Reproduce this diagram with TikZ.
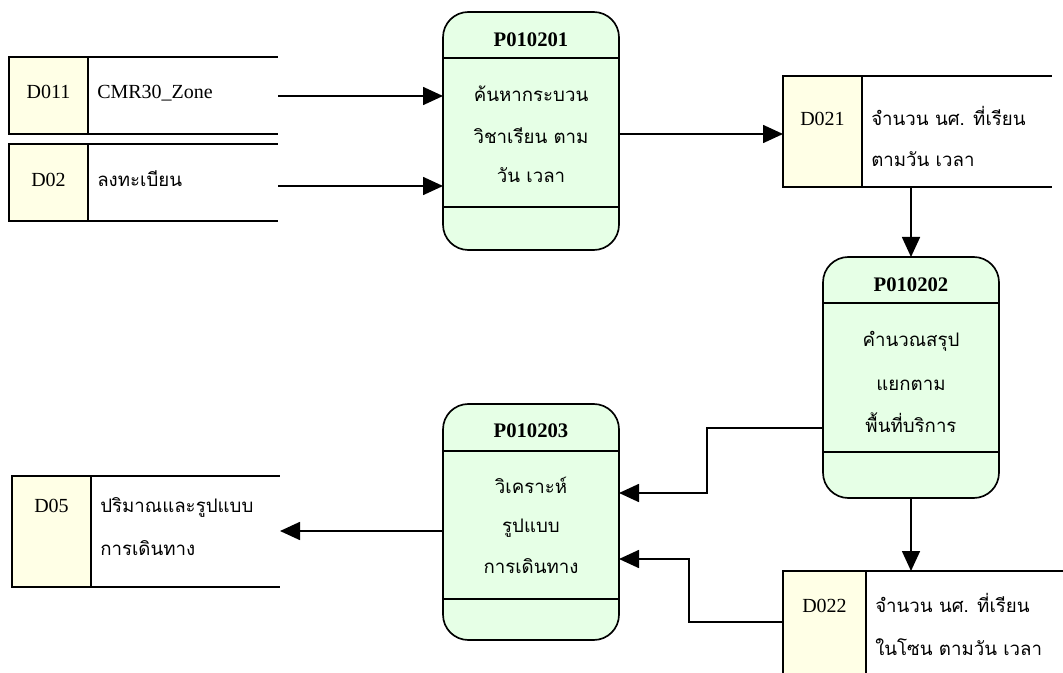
\documentclass[tikz,border=0pt]{standalone}
\usepackage{fontspec}
\setmainfont{Liberation Serif}
\newfontfamily\thaifont[Script=Thai]{Loma}
\usetikzlibrary{arrows.meta,fit}
\definecolor{storefill}{HTML}{FFFFE6}
\definecolor{procfill}{HTML}{E6FFE6}
\begin{document}
\begin{tikzpicture}[x=0.75pt,y=-0.75pt,
  line/.style={line width=1.25pt},
  flow/.style={line width=1.25pt,-{Triangle[length=15pt,width=13.5pt]}},
  area/.style={inner sep=0pt,outer sep=0pt},
  idbox/.style={area,draw,line width=1.25pt,fill=storefill},
  process/.style={area,draw,line width=1.25pt,fill=procfill,rounded corners=19pt},
  idtext/.style={anchor=base,inner sep=0pt,font=\fontsize{15}{18}\selectfont},
  latin/.style={anchor=base west,inner sep=0pt,font=\fontsize{15}{18}\selectfont},
  title/.style={anchor=base,inner sep=0pt,font=\fontsize{15.5}{18}\selectfont\bfseries},
  thaitext/.style={anchor=base west,inner sep=0pt,font=\fontsize{14}{16}\selectfont\thaifont},
  thaic/.style={anchor=base,inner sep=0pt,font=\fontsize{14}{16}\selectfont\thaifont}]
\useasboundingbox (0,0) rectangle (1063,673);
\clip (0,0) rectangle (1063,673);

% ---------- data stores ----------
% D011
\node[area,fit={(9,57) (278,134)}] (s011) {};
\draw[line] (s011.north west) -- (s011.north east) (s011.south west) -- (s011.south east);
\node[idbox,fit={(9,57) (88,134)}] (d011) {};
\node[idtext] (d011id) at (48.5,99) {D011};
\node[latin] (d011name) at (97,99) {CMR30\_Zone};
% D02
\node[area,fit={(9,144) (278,221)}] (s02) {};
\draw[line] (s02.north west) -- (s02.north east) (s02.south west) -- (s02.south east);
\node[idbox,fit={(9,144) (88,221)}] (d02) {};
\node[idtext] (d02id) at (48.5,187) {D02};
\node[thaitext] (d02name) at (97,187) {ลงทะเบียน};
% D021
\node[area,fit={(783,76) (1052,187)}] (s021) {};
\draw[line] (s021.north west) -- (s021.north east) (s021.south west) -- (s021.south east);
\node[idbox,fit={(783,76) (862,187)}] (d021) {};
\node[idtext] (d021id) at (822.5,126) {D021};
\node[thaitext] (d021a) at (871,126) {จำนวน นศ. ที่เรียน};
\node[thaitext] (d021b) at (871,167) {ตามวัน เวลา};
% D022
\node[area,fit={(783,571) (1063,690)}] (s022) {};
\draw[line] (s022.north west) -- (s022.north east);
\node[idbox,fit={(783,571) (866,690)}] (d022) {};
\node[idtext] (d022id) at (824.5,612) {D022};
\node[thaitext] (d022a) at (875,612) {จำนวน นศ. ที่เรียน};
\node[thaitext] (d022b) at (875,655) {ในโซน ตามวัน เวลา};
% D05
\node[area,fit={(12,476) (280,587)}] (s05) {};
\draw[line] (s05.north west) -- (s05.north east) (s05.south west) -- (s05.south east);
\node[idbox,fit={(12,476) (91,587)}] (d05) {};
\node[idtext] (d05id) at (51.5,512) {D05};
\node[thaitext] (d05a) at (100,512) {ปริมาณและรูปแบบ};
\node[thaitext] (d05b) at (100,555) {การเดินทาง};

% ---------- processes ----------
% P010201
\node[process,fit={(443,12) (619,250)}] (p1) {};
\draw[line] (p1.west |- 0,58) -- (p1.east |- 0,58) (p1.west |- 0,207) -- (p1.east |- 0,207);
\node[title] (p1id) at (531,47) {P010201};
\node[thaic] (p1a) at (531,102) {ค้นหากระบวน};
\node[thaic] (p1b) at (531,144) {วิชาเรียน ตาม};
\node[thaic] (p1c) at (531,183) {วัน เวลา};
% P010202
\node[process,fit={(823,257) (999,498)}] (p2) {};
\draw[line] (p2.west |- 0,303) -- (p2.east |- 0,303) (p2.west |- 0,452) -- (p2.east |- 0,452);
\node[title] (p2id) at (911,292) {P010202};
\node[thaic] (p2a) at (911,347) {คำนวณสรุป};
\node[thaic] (p2b) at (911,390) {แยกตาม};
\node[thaic] (p2c) at (911,432) {พื้นที่บริการ};
% P010203
\node[process,fit={(443,404) (619,640)}] (p3) {};
\draw[line] (p3.west |- 0,451) -- (p3.east |- 0,451) (p3.west |- 0,599) -- (p3.east |- 0,599);
\node[title] (p3id) at (531,437) {P010203};
\node[thaic] (p3a) at (531,493) {วิเคราะห์};
\node[thaic] (p3b) at (531,532) {รูปแบบ};
\node[thaic] (p3c) at (531,573) {การเดินทาง};

% ---------- data flows ----------
\draw[flow] (s011.east |- 0,96) -- (p1.west |- 0,96);
\draw[flow] (s02.east |- 0,186) -- (p1.west |- 0,186);
\draw[flow] (p1.east |- 0,134) -- (d021.west |- 0,134);
\draw[flow] (s021.south -| p2.north) -- (p2.north);
\draw[flow] (p2.south) -- (p2.south |- s022.north);
\draw[flow] (p2.west |- 0,428) -| (707,493) -- (p3.east |- 0,493);
\draw[flow] (d022.west |- 0,622) -| (689,559) -- (p3.east |- 0,559);
\draw[flow] (p3.west |- 0,531) -- (s05.east |- 0,531);
\end{tikzpicture}
\end{document}
